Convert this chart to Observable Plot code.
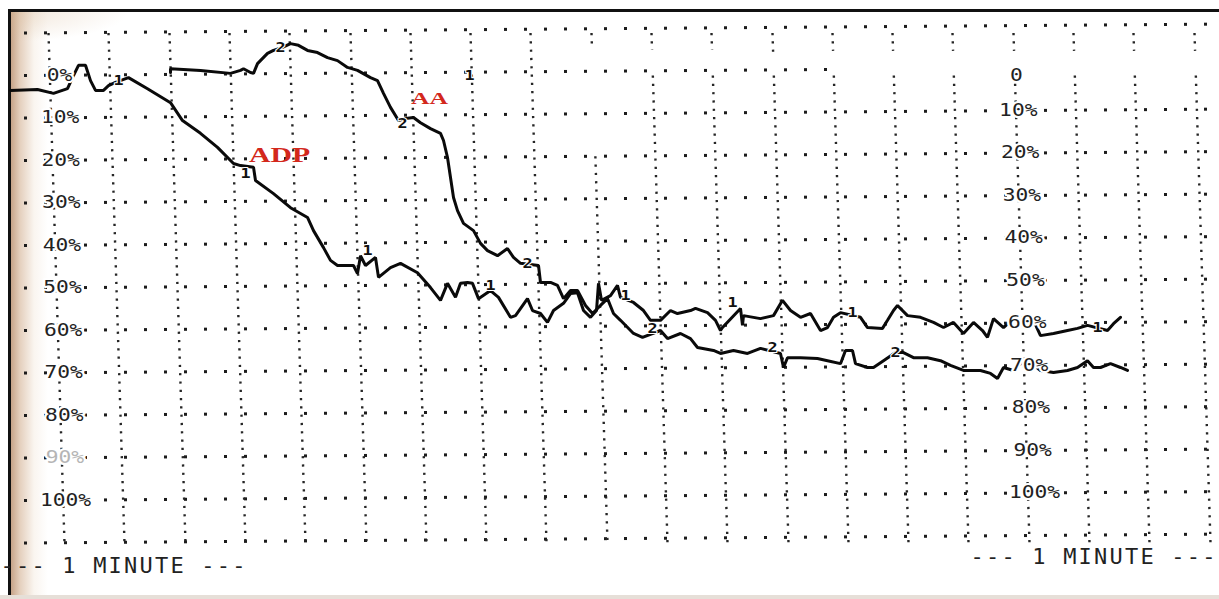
<!DOCTYPE html>
<html>
<head>
<meta charset="utf-8">
<script src="https://cdn.jsdelivr.net/npm/d3@7"></script>
<script src="https://cdn.jsdelivr.net/npm/@observablehq/plot@0.6"></script>
<style>
  html, body { margin: 0; padding: 0; background: #fff; }
  #wrap { position: relative; width: 1219px; height: 599px; overflow: hidden; background: #fff; }
  #age { position: absolute; left: 10px; top: 12px; width: 60px; height: 587px;
    background: linear-gradient(to right, rgba(170,118,78,0.7) 0px, rgba(196,150,110,0.45) 10px, rgba(226,200,170,0.18) 24px, rgba(255,255,255,0) 38px); }
  #ageTop { position: absolute; left: 10px; top: 12px; width: 120px; height: 30px;
    background: radial-gradient(ellipse at top left, rgba(215,185,150,0.35), rgba(255,255,255,0) 70%); }
  #frame { position: absolute; left: 8px; top: 9px; width: 1230px; height: 600px;
    border-left: 3px solid #111; border-top: 3px solid #111; }
  #band { position: absolute; left: 0; top: 595px; width: 1219px; height: 4px; background: #e6dfd8; }
  #chart { position: absolute; left: 0; top: 0; }
</style>
</head>
<body>
<div id="wrap">
  <div id="age"></div>
  <div id="ageTop"></div>
  <div id="frame"></div>
  <div id="band"></div>
  <div id="chart"></div>
</div>
<script>
// ---- Data (time in seconds, 30 s per grid division; aggregation in %) ----
const adpTime = [-21,-7.5,0.5,7.5,10,13,16.5,19,21.5,25.5,28,31.5,38,47.5,59,65,74,82.5,90.5,94,100.5,101.5,110.5,119,127.5,130.5,135.5,139,142.5,150.5,152.5,154,156.5,161.5,163,169,174,182.5,189,194,197.5,201.5,204,207.5,210,213,219,223,229,231.5,237.5,240,244,247.5,250.5,255.5,259,262.5,265.5,269,272,273,274.5,279,282.5,284,290.5,295.5,299,304,309,312.5,319,321.5,327.5,331.5,334,335,344,345,345.5,354,360.5,365,369,374,379,384,387.5,390.5,394,404,407.5,415,417.5,420.5,422.5,427.5,434,440.5,445.5,450.5,455.5,460.5,465,467.5,470.5,475.5,480.5,487.5,490.5,494,500.5,507.5,512.5,517.5,527.5,530.5,534];
const adpAgg = [3.5,3.3,4.2,3.1,0.5,-2.4,-2.4,1.2,3.5,3.5,2.4,1.6,0.5,3.1,6.4,10.6,13.6,16.9,20.7,21.2,21.6,24.7,27.8,31.1,33.4,36.5,40.5,43.5,44.7,44.7,46.6,42.4,44.7,42.8,47.5,45.2,44.2,46.4,49.9,52.9,48.9,52.2,48.9,48.7,48.9,52.5,50.6,52.2,56.9,56.5,52.5,55.3,56,58.1,55.3,53.6,51.3,51.1,55.3,56.9,55.3,48.9,52.9,51.8,49.4,52.2,53.4,55.3,57.6,57.6,55.3,56,55.3,54.8,55.8,57.6,60,59.3,54.8,58.8,56.5,57.2,56.5,52.9,55.3,56.9,56,60,59.3,56.9,55.8,56.9,59.3,59.5,57.6,55.3,54.1,56.5,56.9,58.1,59.3,58.1,60.7,58.1,60,61.6,57.2,59.3,57.2,59.3,57.6,61.2,60.7,60,59.5,58.8,60,58.4,56.9];

const aaTime = [59,59,74,89,94,95.5,99,100.5,102.5,107.5,110.5,115,119,123,127.5,132.5,137.5,142.5,147.5,152.5,159,162.5,165.5,169,173,176.5,180.5,184,189,194,195.5,197.5,199,200.5,202.5,205.5,210.5,214,217.5,222.5,227.5,230.5,234,243,244,249,252.5,255.5,259,262.5,266.5,270,274,277.5,280.5,284,290.5,295,304,307.5,314,319,322.5,330.5,334,340.5,347.5,354,364,365.5,367.5,374,382.5,387.5,394,396.5,400,401.5,407.5,410.5,415.5,421.5,425.5,430.5,437.5,444,449,455.5,464,469,472.5,475.5,480.5,484,489,494,500.5,507.5,512.5,517.5,520.5,524,529,534,537.5];
const aaAgg = [-0.7,-1.6,-1.2,-0.5,-1.2,-1.6,-0.7,-0.5,-2.8,-5.2,-5.9,-6.6,-7.5,-7.1,-5.9,-5.4,-4.2,-3.5,-1.9,-1.2,0.5,1.2,4.2,7.5,10.6,10.1,9.9,11.1,12.5,13.6,15.3,19.3,24,28.7,31.8,34.8,36.5,39.5,41.2,42.4,40.7,42.8,44.2,44.7,48.7,48.7,49.4,52.5,50.6,50.6,54.1,56,54.1,52.5,56,57.6,60.7,61.6,60,61.9,60.7,61.9,64,64.7,65.4,64.7,65.4,64.2,65.4,68.7,66.4,66.4,66.6,67.1,67.8,64.7,64.7,67.8,68.7,68.7,67.1,65.2,65.2,66.4,66.4,67.1,68.2,69.4,69.4,70.1,71.3,68.7,69.4,67.8,67.5,69.4,69.9,69.4,68.7,67.1,68.7,68.7,67.8,68.7,69.4];

// channel event markers printed along the traces
const ch1Time = [33, 96.5, 157.5, 219, 286.5, 340, 400, 522.5, 208.5];
const ch1Agg  = [1.2, 23.1, 41.2, 49.4, 51.8, 53.4, 55.8, 59.3, 0];
const ch2Time = [114, 175, 237.5, 300, 360, 421.5];
const ch2Agg  = [-6.6, 11.3, 44.2, 59.5, 64, 65.2];

// axis tick values & labels
const tickValues = [0, 10, 20, 30, 40, 50, 60, 70, 80, 90, 100];
const leftTickLabels = ["0%", "10%", "20%", "30%", "40%", "50%", "60%", "70%", "80%", "90%", "100%"];
const rightTickLabels = ["0", "10%", "20%", "30%", "40%", "50%", "60%", "70%", "80%", "90%", "100%"];

// grid
const gridRows = [-10, 0, 10, 20, 30, 40, 50, 60, 70, 80, 90, 100, 110];
const gridCols = [-2, 28, 58.5, 88.5, 118.5, 149, 179, 209, 239, 269.5, 299.5, 329.5, 360, 390, 420, 450, 480.5, 510.5, 540.5, 571];

// reagent names and time-scale notes
const reagents = ["ADP", "AA"];
const minuteNote = ["--- 1 MINUTE ---", "--- 1 MINUTE ---"];

// ---- build tables ----
const adp = adpTime.map((t, i) => ({t, v: adpAgg[i]}));
const aa = aaTime.map((t, i) => ({t, v: aaAgg[i]}));
const ch1 = ch1Time.map((t, i) => ({t, v: ch1Agg[i], s: "1"}));
const ch2 = ch2Time.map((t, i) => ({t, v: ch2Agg[i], s: "2"}));

// scan skew of the paper
const slant = 8;      // columns drift right from top row to bottom row
const rowTilt = -2.1; // rows rise from left to right
const xL = -13.5, xR = 583.5;
const rowEnd = {0: 389};
const dotStep = 10;   // printer dot pitch along a row (time units)
const colGaps = {9: [[-7, 19]], 10: [[-6, 0]], 11: [[-6, 0]], 12: [[-5, 0]], 13: [[-5.8, 0]], 14: [[-5.8, 0]], 15: [[-5.8, 0]], 16: [[-5.8, 0]], 17: [[-5.8, 0]], 18: [[-5.8, 0]], 19: [[-5.8, 0]]};

// row printer dots
const rowDots = [];
gridRows.forEach(v => {
  const end = rowEnd[v] ?? xR;
  for (let x = xL; x <= end; x += dotStep) rowDots.push({x, y: v + rowTilt * (x - xL) / (xR - xL)});
});
const colSegs = [];
gridCols.forEach((c, k) => {
  let start = -10;
  (colGaps[k] || []).forEach(([a, b]) => { colSegs.push({c, y1: start, y2: a}); start = b; });
  colSegs.push({c, y1: start, y2: 110});
});
const sx = (c, y) => c + slant * (y + 10) / 120;

const leftTicks = tickValues.map((v, i) => ({v, label: leftTickLabels[i]}));
const rightTicks = tickValues.map((v, i) => ({v, label: rightTickLabels[i]}));

const mono = "DejaVu Sans Mono";
const plot = Plot.plot({
  width: 1219,
  height: 599,
  margin: 0,
  x: {domain: [-26, 583.5], range: [0, 1219], axis: null},
  y: {domain: [-17.647, 123.29], range: [0, 599], axis: null},
  r: {type: "identity"},
  style: {background: "transparent", overflow: "visible"},
  marks: [
    Plot.dot(rowDots, {x: "x", y: "y", r: 1.7, symbol: "square", fill: "#1c1c1c", stroke: "none"}),
    Plot.link(colSegs, {x1: d => sx(d.c, d.y1), x2: d => sx(d.c, d.y2), y1: "y1", y2: "y2", stroke: "#262626", strokeWidth: 2.4, strokeDasharray: "2.2,6.1"}),
    Plot.line(adp, {x: "t", y: "v", stroke: "#0a0a0a", strokeWidth: 3, strokeLinejoin: "miter"}),
    Plot.line(aa, {x: "t", y: "v", stroke: "#0a0a0a", strokeWidth: 3, strokeLinejoin: "miter"}),
    // text groups (order matters for post-processing)
    Plot.text(ch1.concat(ch2), {x: "t", y: "v", text: "s", fontFamily: mono, fontSize: 14, fontWeight: "bold", fill: "#111", stroke: "white", strokeWidth: 2}),
    Plot.text(leftTicks, {x: d => 3.5 + 3 * d.v / 100, y: "v", text: "label", fontFamily: mono, fontSize: 17, fill: d => d.v === 90 ? "#b5b5b5" : "#222", stroke: "white", strokeWidth: 4}),
    Plot.text(rightTicks, {x: d => 482 + 9 * d.v / 100, y: d => d.v === 0 ? 0 : d.v - 1.8, text: "label", fontFamily: mono, fontSize: 17, fill: "#222", stroke: "white", strokeWidth: 4}),
    Plot.text([reagents[0]], {x: [113.5], y: [18.8], text: d => d, fontFamily: "Liberation Serif", fontWeight: "bold", fontSize: 21, fill: "#d3281c"}),
    Plot.text([reagents[1]], {x: [188.5], y: [5.4], text: d => d, fontFamily: "Liberation Serif", fontWeight: "bold", fontSize: 16, fill: "#d3281c"}),
    Plot.text(minuteNote, {x: [-26, 459], y: [115.4, 113.3], text: d => d, textAnchor: "start", fontFamily: mono, fontSize: 22, fill: "#222"})
  ]
});

// horizontal stretch / spacing of printed glyphs (text groups in mark order)
const stretch = [1.2, 1.25, 1.25, 1.42, 1.6, 1.0];
const spacing = [0, 0, 0, 0, 0, 2.2];
plot.querySelectorAll('g[aria-label="text"]').forEach((g, i) => {
  if (spacing[i]) g.style.letterSpacing = spacing[i] + "px";
  g.querySelectorAll("text").forEach(t => {
    let tr = t.getAttribute("transform");
    if (!tr) {
      const x = t.getAttribute("x") || 0, y = t.getAttribute("y") || 0;
      tr = `translate(${x},${y})`;
      t.removeAttribute("x"); t.removeAttribute("y");
    }
    t.setAttribute("transform", tr + ` scale(${stretch[i] ?? 1},1)`);
  });
});

document.getElementById("chart").appendChild(plot);
</script>
</body>
</html>
